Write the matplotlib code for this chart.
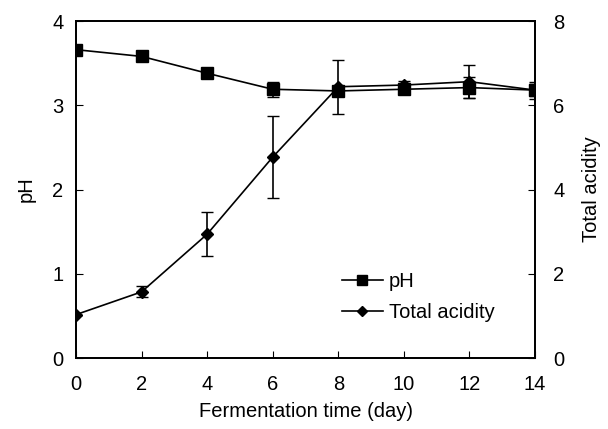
import matplotlib.pyplot as plt
from matplotlib.lines import Line2D

plt.rcParams['font.family'] = ['Liberation Sans', 'DejaVu Sans']

days = [0, 2, 4, 6, 8, 10, 12, 14]
ph = [3.66, 3.58, 3.38, 3.19, 3.17, 3.19, 3.21, 3.18]
ph_err = [0.03, 0.04, 0.06, 0.09, 0.05, 0.06, 0.12, 0.1]
acidity = [1.03, 1.57, 2.94, 4.77, 6.44, 6.48, 6.56, 6.36]
acidity_err = [0.0, 0.13, 0.52, 0.98, 0.64, 0.1, 0.39, 0.15]

fig = plt.figure(figsize=(6.08, 4.29), dpi=100)
ax = fig.add_axes([0.125, 0.1655, 0.755, 0.7855])
ax2 = ax.twinx()

ax.errorbar(days, ph, yerr=ph_err, color='black', marker='s', markersize=8,
            linewidth=1.2, capsize=4, elinewidth=1.2)
ax2.errorbar(days, acidity, yerr=acidity_err, color='black', marker='D', markersize=6,
             linewidth=1.2, capsize=4, elinewidth=1.2)

ax.set_xlim(0, 14)
ax.set_ylim(0, 4)
ax2.set_ylim(0, 8)
ax.set_xticks(days)
ax.set_yticks([0, 1, 2, 3, 4])
ax2.set_yticks([0, 2, 4, 6, 8])

ax.tick_params(axis='y', direction='in', labelsize=14.5, length=5, pad=9)
ax.tick_params(axis='x', direction='in', labelsize=14.5, length=5, pad=12)
ax2.tick_params(direction='in', labelsize=14.5, length=5, pad=13)
for a in (ax, ax2):
    for s in a.spines.values():
        s.set_linewidth(1.3)

ax.set_xlabel('Fermentation time (day)', fontsize=14.5, labelpad=6)
ax.set_ylabel('pH', fontsize=14.5, labelpad=12)
ax2.set_ylabel('Total acidity', fontsize=14.5, labelpad=13)

handles = [Line2D([], [], color='black', marker='s', markersize=7, linewidth=1.2),
           Line2D([], [], color='black', marker='D', markersize=5.5, linewidth=1.2)]
ax.legend(handles, ['pH', 'Total acidity'], loc='upper left',
          bbox_to_anchor=(0.58, 0.256), frameon=False, fontsize=14.5,
          borderpad=0, borderaxespad=0,
          handlelength=2.0, handletextpad=0.3, labelspacing=0.62)

fig.savefig('out.png', dpi=100)
